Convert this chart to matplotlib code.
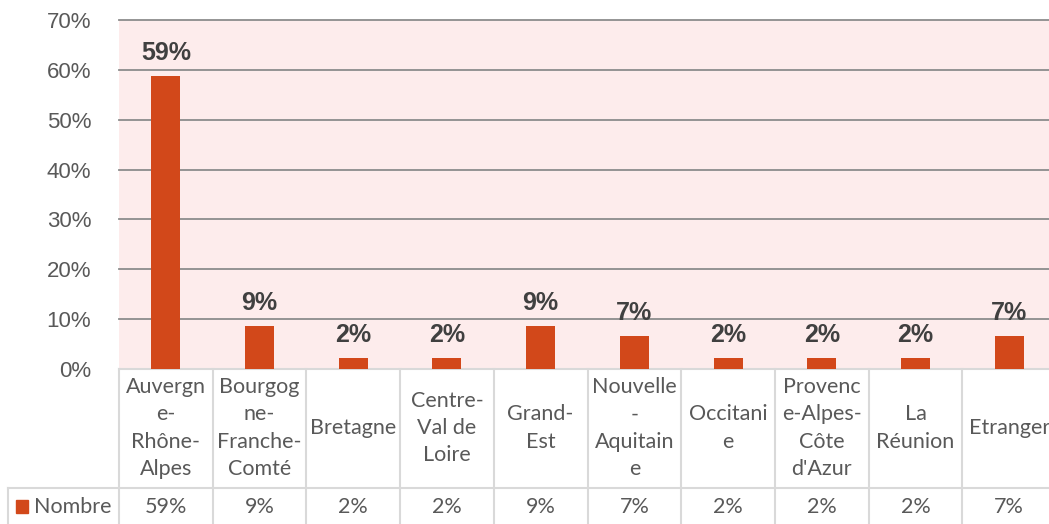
import numpy as np
import matplotlib.pyplot as plt
from matplotlib.patches import Rectangle
from matplotlib.transforms import blended_transform_factory

# data
categories = ["Auvergn\ne-\nRhône-\nAlpes", "Bourgog\nne-\nFranche-\nComté", "Bretagne",
              "Centre-\nVal de\nLoire", "Grand-\nEst", "Nouvelle\n-\nAquitain\ne",
              "Occitani\ne", "Provenc\ne-Alpes-\nCôte\nd'Azur", "La\nRéunion", "Etranger"]
counts = [27, 4, 1, 1, 4, 3, 1, 1, 1, 3]
total = 46
series_name = "Nombre"
yticks = [0, 0.1, 0.2, 0.3, 0.4, 0.5, 0.6, 0.7]

shares = np.array(counts) / total
labels = ["%d%%" % round(v * 100) for v in shares]

bar_color = '#D2481A'
grid_color = '#8C8C8C'
tab_line = '#D9D9D9'
txt_color = '#595959'

W, H = 1049, 524
fig = plt.figure(figsize=(W / 100, H / 100), dpi=100)
ax = fig.add_axes([119 / W, (H - 369) / H, 937 / W, 349 / H])
ax.set_facecolor('#FDECEC')

x = np.arange(len(categories))
ax.bar(x, shares, width=0.31, color=bar_color, zorder=3)
for xi, v, lab in zip(x, shares, labels):
    ax.annotate(lab, (xi, v), xytext=(0, 8), textcoords='offset points',
                ha='center', va='bottom', fontsize=18, fontweight='bold',
                color='#404040', family='Liberation Sans')

ax.set_xlim(-0.5, len(categories) - 0.5)
ax.set_ylim(0, 0.7)
ax.set_yticks(yticks)
ax.set_yticklabels(["%d%%" % round(t * 100) for t in yticks],
                   fontsize=16, color=txt_color, family='Liberation Sans')
ax.tick_params(axis='y', length=0, pad=20)
ax.set_xticks([])
for t in yticks[1:]:
    ax.axhline(t, color=grid_color, lw=1.3, zorder=1, clip_on=False)
for s in ax.spines.values():
    s.set_visible(False)

# data table under the chart
tr = blended_transform_factory(ax.transData, ax.transAxes)
y_row = -119 / 349
y_bot = -160 / 349
ax.plot([-0.5, len(categories) - 0.5], [0, 0], color=tab_line, lw=1.5,
        transform=tr, clip_on=False)
for b in np.arange(len(categories) + 1) - 0.5:
    ax.plot([b, b], [0, y_bot], color=tab_line, lw=1.5, transform=tr, clip_on=False)
ax.plot([-0.5 - 111 / 93.7, len(categories) - 0.5], [y_row, y_row], color=tab_line,
        lw=1.5, transform=tr, clip_on=False)
ax.plot([-0.5 - 111 / 93.7] * 2, [y_row, y_bot], color=tab_line, lw=1.5,
        transform=tr, clip_on=False)

for xi, cat, lab in zip(x, categories, labels):
    ax.text(xi, -59 / 349, cat, transform=tr, ha='center', va='center',
            fontsize=15.5, color=txt_color, family='Lato', linespacing=1.45)
    ax.text(xi, -138 / 349, lab, transform=tr, ha='center', va='center',
            fontsize=15.5, color=txt_color, family='Lato')

fig.patches.append(Rectangle((16 / W, (H - 513) / H), 12 / W, 13 / H,
                             transform=fig.transFigure, color=bar_color))
fig.text(34 / W, (H - 507) / H, series_name, ha='left', va='center',
         fontsize=15.5, color=txt_color, family='Lato')

fig.savefig('out.png', dpi=100)
